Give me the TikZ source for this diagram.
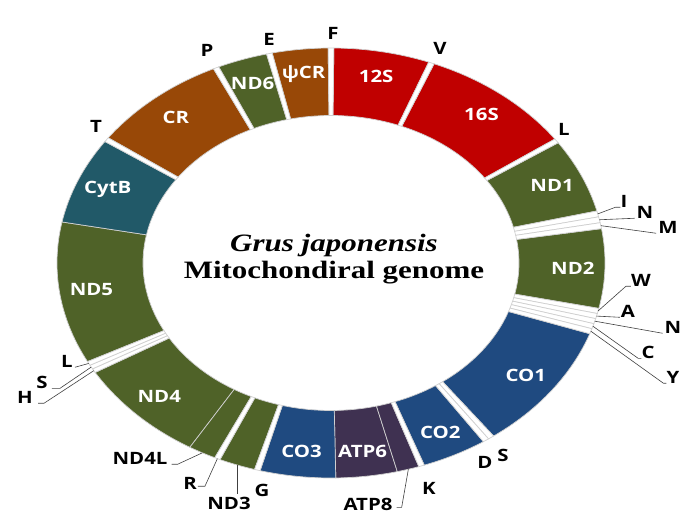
\documentclass[tikz,border=0pt]{standalone}
\usepackage{fontspec}
\setmainfont{Liberation Serif}
\newfontfamily\genefont[FakeStretch=1.2]{Open Sans}
\newfontfamily\titlefont[FakeStretch=1.24]{Liberation Serif}
\usepackage{tikz}
\usetikzlibrary{
	calc,
	positioning,
	}
\definecolor{rrna}{HTML}{C00000}
\definecolor{ndgreen}{HTML}{4F6228}
\definecolor{crbrown}{HTML}{984807}
\definecolor{cytteal}{HTML}{215968}
\definecolor{coblue}{HTML}{1F4A80}
\definecolor{atpviolet}{HTML}{3F3151}
\definecolor{segline}{HTML}{D0D0D0}
\tikzset{
	segment/.style		= {draw=segline, line width=0.7pt},
	genename/.style		= {inner sep=0pt, text=white, font=\genefont\bfseries\fontsize{17}{20}\selectfont},
	trnaname/.style		= {inner sep=0pt, text=black, font=\genefont\bfseries\fontsize{17}{20}\selectfont},
	leader/.style		= {draw=black!75, line width=0.6pt},
	}
% one piece of the ring: start angle, end angle, fill
\newcommand{\ringpart}[3]{\filldraw[segment,fill=#3] (#1:274pt and 215pt) arc[start angle=#1,end angle=#2,x radius=274pt,y radius=215pt] -- (#2:188pt and 147.5pt) arc[start angle=#2,end angle=#1,x radius=188pt,y radius=147.5pt] -- cycle;}

\begin{document}
\begin{tikzpicture}[x=1pt,y=1pt]
\useasboundingbox (0,0) rectangle (699,526);
\begin{scope}[shift={(331,263)}]
\foreach \a/\b/\col/\n/\t in {89.4/69.1/rrna/s12/12S, 67.9/35.2/rrna/s16/16S, 34.0/14.0/ndgreen/nd1/ND1, 9.2/-12.2/ndgreen/nd2/ND2, -19.2/-53.6/coblue/co1/CO1, -56.2/-70.1/coblue/co2/CO2, -76/-89/atpviolet/atp6/ATP6, -89/-105/coblue/co3/CO3, -121/-149.4/ndgreen/nd4/ND4, -152.7/-191/ndgreen/nd5/ND5, -191/-214.4/cytteal/cytb/CytB, -215.6/-244.6/crbrown/cr/CR, -245.8/-256.4/ndgreen/nd6/ND6, -257.6/-269.4/crbrown/pcr/ψCR} {
	\ringpart{\a}{\b}{\col}
	\node[genename] (\n) at ({(\a+\b)/2}:242pt and 190pt) {\t};
}
\foreach \a/\b/\col in {-71.3/-76/atpviolet, -106.2/-113.9/ndgreen, -115.1/-121/ndgreen} {\ringpart{\a}{\b}{\col}}
\foreach \a/\b/\n in {90.6/89.4/F, 69.1/67.9/V, 35.2/34.0/La, 14.0/12.4/I, 12.4/10.8/Na, 10.8/9.2/M, -12.2/-13.6/W, -13.6/-15.0/A, -15.0/-16.4/Nb, -16.4/-17.8/C, -17.8/-19.2/Y, -53.6/-54.9/Sa, -54.9/-56.2/D, -70.1/-71.3/K, -105/-106.2/G, -113.9/-115.1/R, -149.4/-150.5/H, -150.5/-151.6/Sb, -151.6/-152.7/Lb, -214.4/-215.6/T, -244.6/-245.8/P, -256.4/-257.6/E} {
	\ringpart{\a}{\b}{white}
	\coordinate (r\n) at ({(\a+\b)/2}:274pt and 215pt);
}
\coordinate (rATP8) at (-73.6:274pt and 215pt);
\coordinate (rND3) at (-110:274pt and 215pt);
\coordinate (rND4L) at (-118:274pt and 215pt);
\end{scope}
\node[anchor=base,font=\titlefont\bfseries\itshape\fontsize{25}{30}\selectfont] (species) at (334,274) {Grus japonensis};
\node[anchor=base,font=\titlefont\bfseries\fontsize{25}{30}\selectfont] (genome) at (334,247) {Mitochondiral genome};
\node[trnaname] (lF) at (333,493) {F};
\node[trnaname] (lE) at (269,487) {E};
\node[trnaname] (lP) at (207,476) {P};
\node[trnaname] (lT) at (96,400) {T};
\node[trnaname] (lV) at (440,478) {V};
\node[trnaname] (lLa) at (564,397) {L};
\node[trnaname] (lI) at (624,325) {I};
\node[trnaname] (lNa) at (645,314) {N};
\node[trnaname] (lM) at (668,299) {M};
\node[trnaname] (lW) at (641,246) {W};
\node[trnaname] (lA) at (628,215) {A};
\node[trnaname] (lNb) at (673,199) {N};
\node[trnaname] (lC) at (648,174) {C};
\node[trnaname] (lY) at (673,149) {Y};
\node[trnaname] (lSa) at (503,71) {S};
\node[trnaname] (lD) at (485,64) {D};
\node[trnaname] (lK) at (429,38) {K};
\node[trnaname] (lATP8) at (368,22) {ATP8};
\node[trnaname] (lG) at (262,36) {G};
\node[trnaname] (lND3) at (229,23) {ND3};
\node[trnaname] (lR) at (190,43) {R};
\node[trnaname] (lND4L) at (140,68) {ND4L};
\node[trnaname] (lLb) at (67,165) {L};
\node[trnaname] (lSb) at (42,144) {S};
\node[trnaname] (lH) at (25,129) {H};
\draw[leader] (rI) -- ([xshift=-5pt]lI.south west) -- (lI.south west);
\draw[leader] (rNa) -- ([xshift=-2pt]lNa.south west);
\draw[leader] (rM) -- ([xshift=-2pt]lM.south west);
\draw[leader] (rW) -- ([xshift=-5pt]lW.south west) -- (lW.south west);
\draw[leader] (rA) -- ([xshift=-1pt]lA.south west);
\draw[leader] (rNb) -- ([xshift=-2pt]lNb.south west);
\draw[leader] (rC) -- ([xshift=-3pt]lC.south west) -- (lC.south west);
\draw[leader] (rY) -- ([xshift=-3pt]lY.south west) -- (lY.south west);
\draw[leader] (rLb) -- ([xshift=2pt]lLb.south east);
\draw[leader] (rSb) -- ([xshift=12pt]lSb.south east) -- ([xshift=4pt]lSb.south east);
\draw[leader] (rH) -- ([xshift=11pt]lH.south east) -- ([xshift=5pt]lH.south east);
\draw[leader] (rND4L) -- ([xshift=10pt]lND4L.south east) -- ([xshift=4pt]lND4L.south east);
\draw[leader] (rR) -- ([xshift=8pt,yshift=3pt]lR.south east) -- ([xshift=1pt,yshift=3pt]lR.south east);
\draw[leader] (rND3) -- ([yshift=3pt]rND3 |- lND3.north);
\draw[leader] (rATP8) -- ([xshift=9pt,yshift=3pt]lATP8.south east) -- ([xshift=4pt,yshift=3pt]lATP8.south east);
\end{tikzpicture}
\end{document}
